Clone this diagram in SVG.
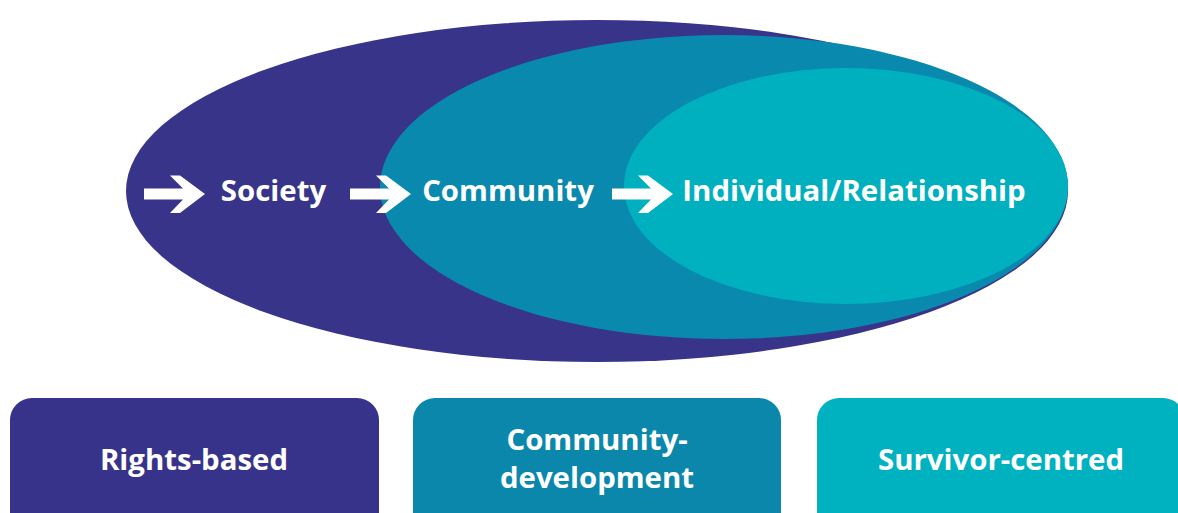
<svg xmlns="http://www.w3.org/2000/svg" width="1178" height="513" viewBox="0 0 1178 513">
<style>
.t{font-family:"Open Sans","Liberation Sans",sans-serif;font-weight:700;fill:#fff;font-size:29.4px}
.arr{fill:#fff}
</style>
<defs>
<path id="arrow" d="M0,-5.5 L39,-5.5 L26,-18.5 L36,-18.5 L61,0 L36,19 L26,19 L39,5.5 L0,5.5 Z"/>
</defs>
<g id="society">
<ellipse cx="597" cy="191" rx="471" ry="171" fill="#38348A"/>
</g>
<g id="community">
<ellipse cx="724" cy="187" rx="344" ry="152" fill="#0A89AE"/>
</g>
<g id="individual">
<ellipse cx="846" cy="186" rx="222" ry="118" fill="#00B0BE"/>
</g>
<g id="connectors" class="arr">
<use href="#arrow" x="144" y="194"/>
<use href="#arrow" x="350" y="194"/>
<use href="#arrow" x="612" y="194"/>
</g>
<g id="labels">
<text class="t" x="273.5" y="201" text-anchor="middle">Society</text>
<text class="t" x="508" y="201" text-anchor="middle">Community</text>
<text class="t" x="854" y="201" text-anchor="middle">Individual/Relationship</text>
</g>
<g id="rights-based">
<rect x="10" y="398" width="369" height="140" rx="22" fill="#38338A"/>
<text class="t" x="194" y="470" text-anchor="middle">Rights-based</text>
</g>
<g id="community-development">
<rect x="413" y="398" width="368" height="140" rx="22" fill="#0B87AB"/>
<text class="t" x="597" y="450" text-anchor="middle">Community-</text>
<text class="t" x="597" y="488" text-anchor="middle">development</text>
</g>
<g id="survivor-centred">
<rect x="817" y="398" width="368" height="140" rx="22" fill="#00B1BF"/>
<text class="t" x="1001" y="470" text-anchor="middle">Survivor-centred</text>
</g>
</svg>
